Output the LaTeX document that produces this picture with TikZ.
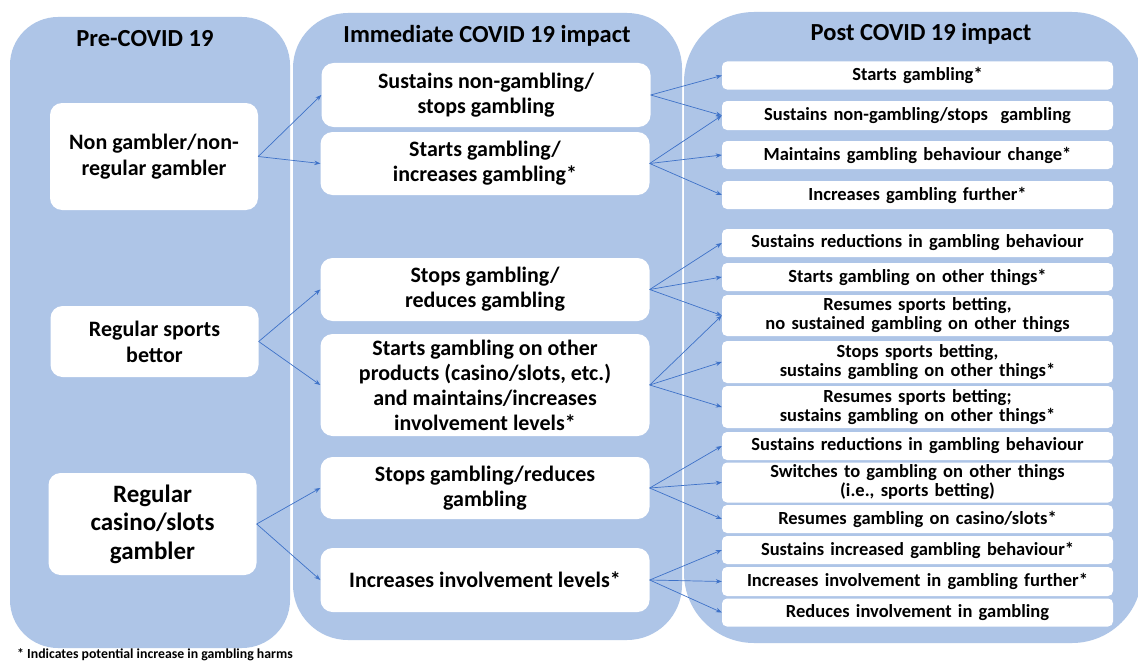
\documentclass[tikz,border=0pt]{standalone}
\usepackage{fontspec}
\setmainfont{Carlito}
\usetikzlibrary{arrows.meta}
\definecolor{colfill}{RGB}{174,197,231}
\definecolor{arr}{RGB}{62,114,200}
\newcommand\myrfont{\fontsize{18.5}{19}\selectfont\bfseries\spaceskip=0.34em plus 0.1em minus 0.05em\relax}
\tikzset{
  colbox/.style={fill=colfill, draw=none, rounded corners=#1, inner sep=0pt},
  head/.style={font=\fontsize{24.5}{28}\selectfont\bfseries, inner sep=0pt},
  lbox/.style={fill=white, draw=none, rounded corners=12pt, inner sep=0pt, align=center,
    minimum width=208pt, font=\fontsize{22}{26}\selectfont\bfseries},
  mbox/.style={fill=white, draw=none, rounded corners=12pt, inner sep=0pt, align=center,
    minimum width=329pt, font=\fontsize{22}{25}\selectfont\bfseries},
  rbox/.style={fill=white, draw=none, rounded corners=5pt, inner sep=0pt, align=center,
    minimum width=391pt, font=\myrfont},
  conn/.style={draw=arr, line width=0.7pt, -{Stealth[length=6pt,width=4.5pt]}}
}
\begin{document}
\begin{tikzpicture}[x=1pt,y=-1pt]
\useasboundingbox[fill=white] (0,0) rectangle (1138,661);
% columns
\node[colbox=48pt, minimum width=280pt, minimum height=631pt] (C1) at (150,332.5) {};
\node[colbox=55pt, minimum width=389pt, minimum height=627pt] (C2) at (487.5,326.5) {};
\node[colbox=70pt, minimum width=458pt, minimum height=631pt] (C3) at (913,327.5) {};
% headers
\node[head] (H1) at (145,39) {Pre-COVID 19};
\node[head] (H2) at (487,36) {Immediate COVID 19 impact};
\node[head] (H3) at (921,34) {Post COVID 19 impact};
% left boxes
\node[lbox, minimum height=107pt] (L1) at (154,156.5) {Non gambler/non-\\regular gambler};
\node[lbox, minimum height=71pt] (L2) at (154.5,341.5) {Regular sports\\bettor};
\node[lbox, minimum height=102pt, font=\fontsize{25}{28.5}\selectfont\bfseries] (L3) at (152.5,524) {Regular\\casino/slots\\gambler};
% middle boxes
\node[mbox, minimum height=64pt] (M1) at (486,95) {Sustains non-gambling/\\stops gambling};
\node[mbox, minimum height=63pt] (M2) at (485,163.5) {Starts gambling/\\increases gambling*};
\node[mbox, minimum height=63pt] (M3) at (485,289.5) {Stops gambling/\\reduces gambling};
\node[mbox, minimum height=102pt] (M4) at (485,385) {Starts gambling on other\\products (casino/slots, etc.)\\and maintains/increases\\involvement levels*};
\node[mbox, minimum height=62pt] (M5) at (485,488) {Stops gambling/reduces\\gambling};
\node[mbox, minimum height=64pt] (M6) at (485,580) {Increases involvement levels*};
% right boxes
\node[rbox, minimum height=28pt] (R1) at (917.5,75.5) {Starts gambling*};
\node[rbox, minimum height=29pt] (R2) at (917.5,115.5) {Sustains non-gambling/stops\ \ gambling};
\node[rbox, minimum height=28pt] (R3) at (917.5,155) {Maintains gambling behaviour change*};
\node[rbox, minimum height=28pt] (R4) at (917.5,195) {Increases gambling further*};
\node[rbox, minimum height=28pt] (R5) at (917.5,243) {Sustains reductions in gambling behaviour};
\node[rbox, minimum height=28pt] (R6) at (917.5,277) {Starts gambling on other things*};
\node[rbox, minimum height=41pt] (R7) at (917.5,315.5) {Resumes sports betting,\\no sustained gambling on other things};
\node[rbox, minimum height=42pt] (R8) at (917.5,362) {Stops sports betting,\\sustains gambling on other things*};
\node[rbox, minimum height=42pt] (R9) at (917.5,407) {Resumes sports betting;\\sustains gambling on other things*};
\node[rbox, minimum height=28pt] (R10) at (917.5,446) {Sustains reductions in gambling behaviour};
\node[rbox, minimum height=40pt] (R11) at (917.5,482.5) {Switches to gambling on other things\\(i.e., sports betting)};
\node[rbox, minimum height=28pt] (R12) at (917.5,519) {Resumes gambling on casino/slots*};
\node[rbox, minimum height=28pt] (R13) at (917.5,550) {Sustains increased gambling behaviour*};
\node[rbox, minimum height=29pt] (R14) at (917.5,581.5) {Increases involvement in gambling further*};
\node[rbox, minimum height=28pt] (R15) at (917.5,612.5) {Reduces involvement in gambling};
% footnote
\node[anchor=west, inner sep=0pt, font=\fontsize{13.8}{15}\selectfont\bfseries] (FN) at (17,655) {*\ Indicates potential increase in gambling harms};
% connectors left -> middle
\draw[conn] (L1.east) -- (M1.west);
\draw[conn] (L1.east) -- (M2.west);
\draw[conn] (L2.east) -- (M3.west);
\draw[conn] (L2.east) -- (M4.west);
\draw[conn] (L3.east) -- (M5.west);
\draw[conn] (L3.east) -- (M6.west);
% middle -> right
\draw[conn] (M1.east) -- (R1.west);
\draw[conn] (M1.east) -- (R2.west);
\draw[conn] (M2.east) -- (R2.west);
\draw[conn] (M2.east) -- (R3.west);
\draw[conn] (M2.east) -- (R4.west);
\draw[conn] (M3.east) -- (R5.west);
\draw[conn] (M3.east) -- (R6.west);
\draw[conn] (M3.east) -- (R7.west);
\draw[conn] (M4.east) -- (R7.west);
\draw[conn] (M4.east) -- (R8.west);
\draw[conn] (M4.east) -- (R9.west);
\draw[conn] (M5.east) -- (R10.west);
\draw[conn] (M5.east) -- (R11.west);
\draw[conn] (M5.east) -- (R12.west);
\draw[conn] (M6.east) -- (R13.west);
\draw[conn] (M6.east) -- (R14.west);
\draw[conn] (M6.east) -- (R15.west);
\end{tikzpicture}
\end{document}
